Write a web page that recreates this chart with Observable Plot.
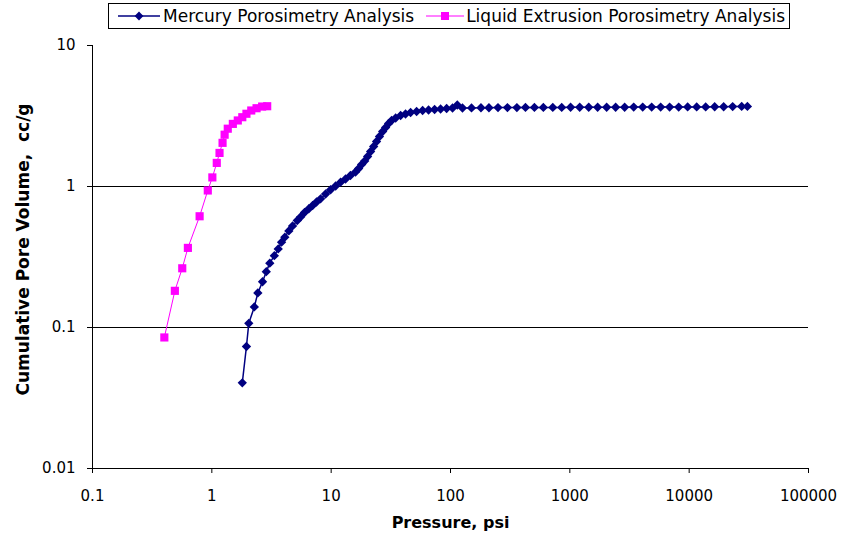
<!DOCTYPE html>
<html>
<head>
<meta charset="utf-8">
<script src="https://cdn.jsdelivr.net/npm/d3@7"></script>
<script src="https://cdn.jsdelivr.net/npm/@observablehq/plot@0.6"></script>
<style>
  html, body { margin: 0; padding: 0; background: #fff; }
  #wrap { position: relative; width: 842px; height: 541px; overflow: hidden; }
  #chart { position: absolute; left: 0; top: 0; }
  .legend {
    position: absolute; left: 108px; top: 3px; width: 682px; height: 26px;
    border: 1px solid #000; box-sizing: border-box; background: #fff;
    display: flex; align-items: center; padding-left: 9px;
    font-family: "DejaVu Sans", sans-serif; font-size: 17px; color: #000;
    white-space: nowrap;
  }
  .legend svg { display: block; }
</style>
</head>
<body>
<div id="wrap">
  <div id="chart"></div>
  <div class="legend" id="legend"></div>
</div>
<script>
// ---- data ----
const seriesNames = ["Mercury Porosimetry Analysis", "Liquid Extrusion Porosimetry Analysis"];
const seriesColors = ["#000080", "#FF00FF"];

const mercuryPressure = [1.80, 1.95, 2.04, 2.27, 2.43, 2.66, 2.86, 3.06, 3.34, 3.60,
  3.84, 4.09, 4.42, 4.75, 5.20, 5.54, 5.98, 6.50, 6.99, 7.54,
  8.15, 8.98, 9.89, 10.9, 12.0, 13.2, 14.5, 16.0, 17.0, 18.0,
  19.1, 20.2, 21.4, 22.7, 24.0, 25.4, 27.0, 28.6, 30.3, 32.1,
  34.7, 38.2, 42.0, 46.3, 52.0, 58.4, 65.5, 73.6, 82.6, 92.8,
  104, 114, 126,
  150, 180, 210, 250, 300, 360, 425, 505, 600, 720,
  855, 1015, 1210, 1440, 1710, 2035, 2420, 2880, 3430, 4080,
  4850, 5770, 6860, 8170, 9710, 11560, 13750, 16360, 19460, 23150,
  27550, 30760];
const mercuryVolume = [0.0405, 0.0733, 0.107, 0.140, 0.176, 0.211, 0.249, 0.286, 0.323, 0.361,
  0.403, 0.437, 0.484, 0.525, 0.574, 0.608, 0.654, 0.695, 0.733, 0.776,
  0.818, 0.885, 0.948, 1.008, 1.073, 1.130, 1.197, 1.267, 1.342, 1.432,
  1.517, 1.633, 1.771, 1.921, 2.085, 2.263, 2.455, 2.621, 2.798, 2.938,
  3.061, 3.188, 3.268, 3.349, 3.404, 3.459, 3.487, 3.516, 3.545, 3.574,
  3.603, 3.784, 3.603,
  3.61, 3.62, 3.62, 3.63, 3.63, 3.63, 3.64, 3.64, 3.64, 3.64,
  3.64, 3.65, 3.65, 3.65, 3.65, 3.65, 3.65, 3.65, 3.66, 3.66,
  3.66, 3.66, 3.66, 3.66, 3.67, 3.67, 3.67, 3.68, 3.68, 3.69,
  3.70, 3.70];

const liquidPressure = [0.40, 0.49, 0.565, 0.63, 0.79, 0.925, 1.01, 1.10, 1.16, 1.23,
  1.28, 1.36, 1.50, 1.65, 1.80, 1.95, 2.14, 2.37, 2.64, 2.91];
const liquidVolume = [0.085, 0.182, 0.263, 0.367, 0.615, 0.937, 1.16, 1.47, 1.73, 2.04,
  2.33, 2.57, 2.78, 2.94, 3.10, 3.28, 3.46, 3.59, 3.69, 3.71];

const xTicks = [0.1, 1, 10, 100, 1000, 10000, 100000];
const yTicks = [0.01, 0.1, 1, 10];
const gridValues = [0.1, 1];
const xTitle = "Pressure, psi";
const yTitle = "Cumulative Pore Volume,\u00a0 cc/g";

// ---- build tables ----
const mercury = mercuryPressure.map((p, i) => ({p, v: mercuryVolume[i]}));
const liquid = liquidPressure.map((p, i) => ({p, v: liquidVolume[i]}));

const fmt = d => String(d);

const chart = Plot.plot({
  width: 842,
  height: 541,
  marginLeft: 92,
  marginRight: 34,
  marginTop: 45,
  marginBottom: 73,
  style: {fontFamily: "DejaVu Sans, sans-serif", fontSize: "15px", color: "#000", background: "#fff", overflow: "visible"},
  x: {type: "log", domain: [0.1, 100000]},
  y: {type: "log", domain: [0.01, 10]},
  marks: [
    Plot.ruleY(gridValues, {stroke: "#000", strokeWidth: 1}),
    Plot.ruleY([0.01], {stroke: "#000", strokeWidth: 1}),
    Plot.ruleX([0.1], {stroke: "#000", strokeWidth: 1}),
    Plot.axisX({ticks: xTicks, tickFormat: fmt, tickSize: 5, tickPadding: 17, label: null, stroke: "#000", strokeOpacity: 1, fill: "#000"}),
    Plot.axisY({ticks: yTicks, tickFormat: fmt, tickSize: 5, tickPadding: 12, label: null, stroke: "#000", strokeOpacity: 1, fill: "#000"}),
    Plot.text([xTitle], {frameAnchor: "bottom", textAnchor: "middle", dy: 59, fontWeight: "bold", fontSize: 16, fill: "#000"}),
    Plot.text([yTitle], {frameAnchor: "left", textAnchor: "middle", rotate: -90, dx: -69, dy: -7.5, fontWeight: "bold", fontSize: 17, fill: "#000"}),
    Plot.line(liquid, {x: "p", y: "v", stroke: seriesColors[1], strokeWidth: 1}),
    Plot.dot(liquid, {x: "p", y: "v", symbol: "square", r: 4.6, fill: seriesColors[1], stroke: "none"}),
    Plot.line(mercury, {x: "p", y: "v", stroke: seriesColors[0], strokeWidth: 1.5}),
    Plot.dot(mercury, {x: "p", y: "v", symbol: "diamond2", r: 4.2, fill: seriesColors[0], stroke: "none"})
  ]
});
document.getElementById("chart").appendChild(chart);

// ---- legend ----
const legend = document.getElementById("legend");
const symW = [42, 38];
seriesNames.forEach((name, i) => {
  const w = symW[i];
  const ns = "http://www.w3.org/2000/svg";
  const s = document.createElementNS(ns, "svg");
  s.setAttribute("width", w);
  s.setAttribute("height", 14);
  if (i > 0) s.style.marginLeft = "12px";
  const ln = document.createElementNS(ns, "line");
  ln.setAttribute("x1", 0); ln.setAttribute("x2", w);
  ln.setAttribute("y1", 7); ln.setAttribute("y2", 7);
  ln.setAttribute("stroke", seriesColors[i]);
  ln.setAttribute("stroke-width", i === 0 ? 1.5 : 1);
  s.appendChild(ln);
  const m = document.createElementNS(ns, "path");
  const c = w / 2;
  if (i === 0) {
    m.setAttribute("d", `M${c},2.6L${c + 4.4},7L${c},11.4L${c - 4.4},7Z`);
  } else {
    m.setAttribute("d", `M${c - 4},3H${c + 4}V11H${c - 4}Z`);
  }
  m.setAttribute("fill", seriesColors[i]);
  s.appendChild(m);
  legend.appendChild(s);
  const t = document.createElement("span");
  t.textContent = name;
  t.style.marginLeft = i === 0 ? "3px" : "2px";
  legend.appendChild(t);
});
</script>
</body>
</html>
